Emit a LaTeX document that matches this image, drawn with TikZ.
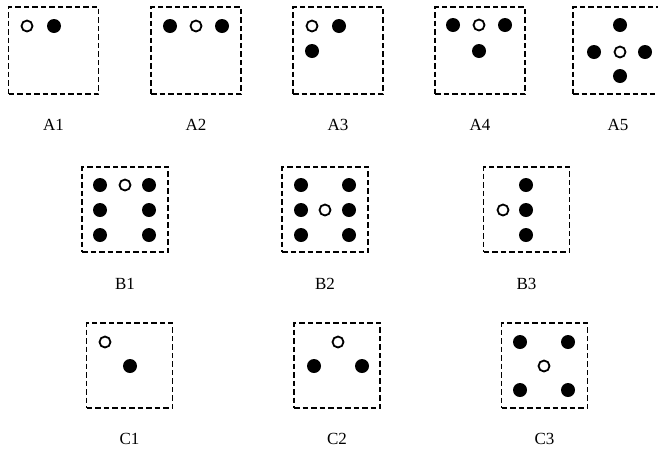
\documentclass[tikz,border=0pt]{standalone}
\usepackage{fontspec}
\setmainfont{Liberation Serif}
\usepackage{tikz}
\usetikzlibrary{positioning}
\tikzset{
  cellbox/.style={
    draw=black,
    line width=1.8pt,
    dash pattern=on 5.5pt off 3pt,
    minimum width=86pt,
    minimum height=85pt,
    inner sep=0pt
  },
  widebox/.style={cellbox, minimum width=90pt, minimum height=87pt},
  fulldot/.style={circle, fill=black, minimum size=14pt, inner sep=0pt},
  hollowdot/.style={circle, draw=black, fill=white, line width=1.8pt, minimum size=11pt, inner sep=0pt},
  cellname/.style={font=\fontsize{17}{20}\selectfont, text=black, inner sep=0pt}
}

\begin{document}
\begin{tikzpicture}[x=1pt, y=-1pt]
  \useasboundingbox (0,0) rectangle (658,448);

  % row A
  \node[widebox] (A1) at (53.5,50.5) {};
  \node[widebox] (A2) at (196,50.5) {};
  \node[widebox] (A3) at (338,50.5) {};
  \node[widebox] (A4) at (480,50.5) {};
  \node[widebox] (A5) at (618,50.5) {};

  \node[cellname, below=24pt of A1] (A1lab) {A1};
  \node[cellname, below=24pt of A2] (A2lab) {A2};
  \node[cellname, below=24pt of A3] (A3lab) {A3};
  \node[cellname, below=24pt of A4] (A4lab) {A4};
  \node[cellname, below=24pt of A5] (A5lab) {A5};

  \node[hollowdot] (a1w) at (27,26) {};
  \node[fulldot] (a1b) at (54,26) {};

  \node[fulldot] (a2b1) at (170,26) {};
  \node[hollowdot] (a2w) at (196,26) {};
  \node[fulldot] (a2b2) at (222,26) {};

  \node[hollowdot] (a3w) at (312,26) {};
  \node[fulldot] (a3b1) at (339,26) {};
  \node[fulldot] (a3b2) at (312,51) {};

  \node[fulldot] (a4b1) at (453,25) {};
  \node[hollowdot] (a4w) at (479,25) {};
  \node[fulldot] (a4b2) at (505,25) {};
  \node[fulldot] (a4b3) at (479,51) {};

  \node[fulldot] (a5b1) at (620,25) {};
  \node[fulldot] (a5b2) at (594,52) {};
  \node[hollowdot] (a5w) at (620,52) {};
  \node[fulldot] (a5b3) at (645,52) {};
  \node[fulldot] (a5b4) at (620,76) {};

  % row B
  \node[cellbox] (B1) at (125,209.5) {};
  \node[cellbox] (B2) at (325,209.5) {};
  \node[cellbox] (B3) at (526.5,209.5) {};

  \node[cellname, below=25pt of B1] (B1lab) {B1};
  \node[cellname, below=25pt of B2] (B2lab) {B2};
  \node[cellname, below=25pt of B3] (B3lab) {B3};

  \node[fulldot] (b1b1) at (100,185) {};
  \node[hollowdot] (b1w) at (125,185) {};
  \node[fulldot] (b1b2) at (149,185) {};
  \node[fulldot] (b1b3) at (100,210) {};
  \node[fulldot] (b1b4) at (149,210) {};
  \node[fulldot] (b1b5) at (100,235) {};
  \node[fulldot] (b1b6) at (149,235) {};

  \node[fulldot] (b2b1) at (301,185) {};
  \node[fulldot] (b2b2) at (349,185) {};
  \node[fulldot] (b2b3) at (301,210) {};
  \node[hollowdot] (b2w) at (325,210) {};
  \node[fulldot] (b2b4) at (349,210) {};
  \node[fulldot] (b2b5) at (301,235) {};
  \node[fulldot] (b2b6) at (349,235) {};

  \node[fulldot] (b3b1) at (526,185) {};
  \node[hollowdot] (b3w) at (503,210) {};
  \node[fulldot] (b3b2) at (526,210) {};
  \node[fulldot] (b3b3) at (526,235) {};

  % row C
  \node[cellbox] (C1) at (129.5,365.5) {};
  \node[cellbox] (C2) at (337,365.5) {};
  \node[cellbox] (C3) at (544.5,365.5) {};

  \node[cellname, below=24pt of C1] (C1lab) {C1};
  \node[cellname, below=24pt of C2] (C2lab) {C2};
  \node[cellname, below=24pt of C3] (C3lab) {C3};

  \node[hollowdot] (c1w) at (105,342) {};
  \node[fulldot] (c1b) at (130,366) {};

  \node[hollowdot] (c2w) at (338,342) {};
  \node[fulldot] (c2b1) at (314,366) {};
  \node[fulldot] (c2b2) at (362,366) {};

  \node[fulldot] (c3b1) at (520,342) {};
  \node[fulldot] (c3b2) at (568,342) {};
  \node[hollowdot] (c3w) at (544,366) {};
  \node[fulldot] (c3b3) at (520,390) {};
  \node[fulldot] (c3b4) at (568,390) {};
\end{tikzpicture}
\end{document}
